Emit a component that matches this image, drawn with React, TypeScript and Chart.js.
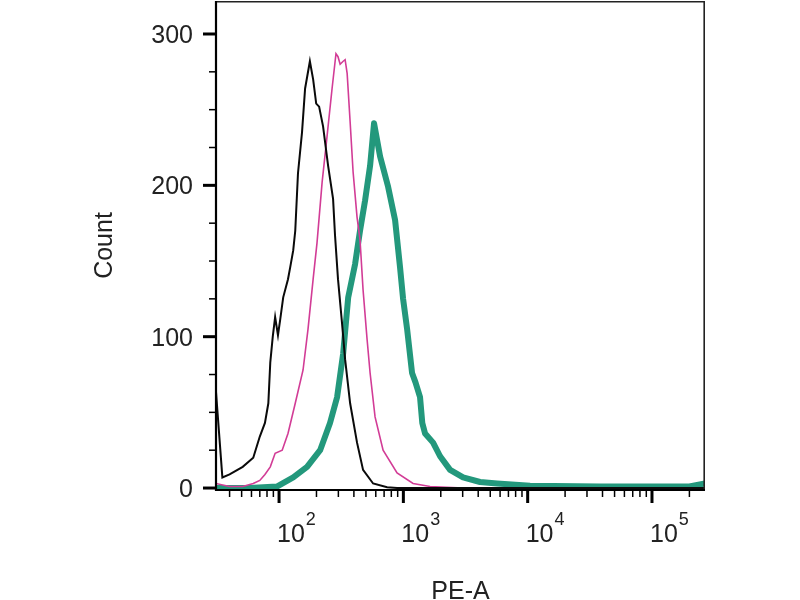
import React, { useEffect, useRef } from "react";
import { Chart, registerables } from "chart.js";

Chart.register(...registerables);

// ---- data (PE-A value, count) ----
const blackX = [31, 35, 40, 51, 62, 70, 77, 82, 85, 89, 93, 98, 102, 108, 118, 123, 130, 135, 142, 153, 162, 177, 188, 199, 210, 226, 248, 272, 282, 298, 321, 340, 373, 424, 474, 571, 740, 890, 2000, 10000, 100000, 267000];
const blackY = [65, 7, 9, 14, 20, 34, 43, 56, 83, 100, 113, 101, 111, 126, 138, 146, 157, 170, 208, 235, 264, 282, 270, 254, 252, 239, 213, 191, 167, 138, 109, 85, 56, 30, 12, 3, 0.5, 0, 0, 0, 0, 0];

const magentaX = [31, 40, 51, 62, 70, 77, 85, 93, 106, 118, 135, 156, 171, 188, 202, 222, 243, 267, 287, 298, 310, 328, 340, 353, 373, 394, 424, 448, 474, 511, 540, 592, 687, 890, 1197, 1640, 3023, 10000, 100000, 267000];
const magentaY = [3, 1, 1, 3, 5, 9, 14, 23, 25, 36, 56, 78, 105, 138, 162, 202, 232, 264, 287, 285, 280, 282, 283, 274, 242, 209, 179, 164, 131, 98, 76, 47, 25, 10, 3, 1, 0, 0, 0, 0];

const tealX = [31, 58, 96, 130, 168, 214, 257, 293, 328, 360, 409, 448, 492, 540, 581, 650, 754, 858, 940, 995, 1072, 1175, 1250, 1362, 1420, 1495, 1734, 1974, 2376, 3023, 4140, 5672, 10450, 38190, 96600, 200000, 267000];
const tealY = [0, 0, 1, 7, 14, 25, 43, 60, 89, 126, 148, 170, 190, 213, 241, 219, 199, 177, 146, 125, 105, 76, 70, 60, 43, 36, 30, 21, 12, 7, 4, 3, 1.5, 1, 1, 1, 3];

// ---- axes ----
const yMajorTicks = [0, 100, 200, 300];
const yMinorTicks = [25, 50, 75, 125, 150, 175, 225, 250, 275];
const xMajorExponents = [2, 3, 4, 5];
const xMinorTicks = [
  30, 40, 50, 60, 70, 80, 90,
  200, 300, 400, 500, 600, 700, 800, 900,
  2000, 3000, 4000, 5000, 6000, 7000, 8000, 9000,
  20000, 30000, 40000, 50000, 60000, 70000, 80000, 90000,
  200000,
];
const xTitle = "PE-A";
const yTitle = "Count";

const X_MIN = 31.1;
const X_MAX = 267000;
const Y_MIN = -1.3;
const Y_MAX = 321.8;

const FONT = '"Liberation Sans", Arial, sans-serif';

const flowAxesPlugin = {
  id: "flowAxes",
  afterDatasetsDraw(chart: any) {
    const { ctx, chartArea: a, scales } = chart;
    const xs = scales.x;
    const ys = scales.y;
    ctx.save();

    // frame: top & right
    ctx.strokeStyle = "#222";
    ctx.lineWidth = 1.6;
    ctx.beginPath();
    ctx.moveTo(a.left, a.top + 0.8);
    ctx.lineTo(a.right - 0.8, a.top + 0.8);
    ctx.lineTo(a.right - 0.8, a.bottom);
    ctx.stroke();

    // left & bottom axis lines
    ctx.strokeStyle = "#000";
    ctx.lineWidth = 2.2;
    ctx.beginPath();
    ctx.moveTo(a.left, a.top);
    ctx.lineTo(a.left, a.bottom);
    ctx.lineTo(a.right, a.bottom);
    ctx.stroke();

    // y ticks
    ctx.lineWidth = 1.5;
    yMinorTicks.forEach((v) => {
      const py = ys.getPixelForValue(v);
      ctx.beginPath();
      ctx.moveTo(a.left - 7, py);
      ctx.lineTo(a.left, py);
      ctx.stroke();
    });
    ctx.lineWidth = 3;
    yMajorTicks.forEach((v) => {
      const py = ys.getPixelForValue(v);
      ctx.beginPath();
      ctx.moveTo(a.left - 13, py);
      ctx.lineTo(a.left, py);
      ctx.stroke();
    });

    // x ticks
    ctx.lineWidth = 1.5;
    xMinorTicks.forEach((v) => {
      const px = xs.getPixelForValue(v);
      if (px < a.left - 1 || px > a.right + 1) return;
      ctx.beginPath();
      ctx.moveTo(px, a.bottom);
      ctx.lineTo(px, a.bottom + 7);
      ctx.stroke();
    });
    ctx.lineWidth = 3;
    xMajorExponents.forEach((e) => {
      const px = xs.getPixelForValue(Math.pow(10, e));
      ctx.beginPath();
      ctx.moveTo(px, a.bottom);
      ctx.lineTo(px, a.bottom + 13);
      ctx.stroke();
    });

    // y tick labels
    ctx.fillStyle = "#222";
    ctx.font = `25px ${FONT}`;
    ctx.textAlign = "right";
    ctx.textBaseline = "middle";
    yMajorTicks.forEach((v) => {
      const py = ys.getPixelForValue(v);
      ctx.fillText(String(v), a.left - 23, py + 2);
    });

    // x tick labels 10^e
    ctx.textBaseline = "alphabetic";
    ctx.textAlign = "left";
    xMajorExponents.forEach((e) => {
      const px = xs.getPixelForValue(Math.pow(10, e));
      ctx.font = `25px ${FONT}`;
      const base = "10";
      ctx.fillText(base, px - 2, a.bottom + 52);
      const w = ctx.measureText(base).width;
      ctx.font = `18px ${FONT}`;
      ctx.fillText(String(e), px - 1 + w, a.bottom + 35);
    });

    // axis titles
    ctx.font = `25px ${FONT}`;
    ctx.textAlign = "center";
    ctx.textBaseline = "alphabetic";
    ctx.fillText(xTitle, (a.left + a.right) / 2, 599);

    ctx.save();
    ctx.translate(112, (a.top + a.bottom) / 2);
    ctx.rotate(-Math.PI / 2);
    ctx.textAlign = "center";
    ctx.fillText(yTitle, 0, 0);
    ctx.restore();

    ctx.restore();
  },
};

function toPoints(xv: number[], yv: number[]) {
  return xv.map((x, i) => ({ x, y: yv[i] }));
}

export default function App() {
  const canvasRef = useRef<HTMLCanvasElement | null>(null);

  useEffect(() => {
    const canvas = canvasRef.current;
    if (!canvas) return;
    const chart = new Chart(canvas, {
      type: "line",
      data: {
        datasets: [
          {
            data: toPoints(blackX, blackY),
            borderColor: "#0a0a0a",
            borderWidth: 2,
            tension: 0,
          },
          {
            data: toPoints(magentaX, magentaY),
            borderColor: "#d23c96",
            borderWidth: 1.6,
            tension: 0,
          },
          {
            data: toPoints(tealX, tealY),
            borderColor: "#23987c",
            borderWidth: 6,
            borderJoinStyle: "round",
            borderCapStyle: "round",
            tension: 0,
          },
        ] as any,
      },
      options: {
        responsive: false,
        animation: false,
        parsing: false,
        layout: { padding: { left: 216, top: 1, right: 95, bottom: 110 } },
        elements: { point: { radius: 0 } },
        scales: {
          x: { type: "logarithmic", min: X_MIN, max: X_MAX, display: false },
          y: { type: "linear", min: Y_MIN, max: Y_MAX, display: false },
        },
        plugins: {
          legend: { display: false },
          tooltip: { enabled: false },
        },
      } as any,
      plugins: [flowAxesPlugin],
    });
    return () => chart.destroy();
  }, []);

  return (
    <div style={{ position: "absolute", left: 0, top: 0, width: 800, height: 600, background: "#fff" }}>
      <canvas ref={canvasRef} width={800} height={600} style={{ display: "block" }} />
    </div>
  );
}
